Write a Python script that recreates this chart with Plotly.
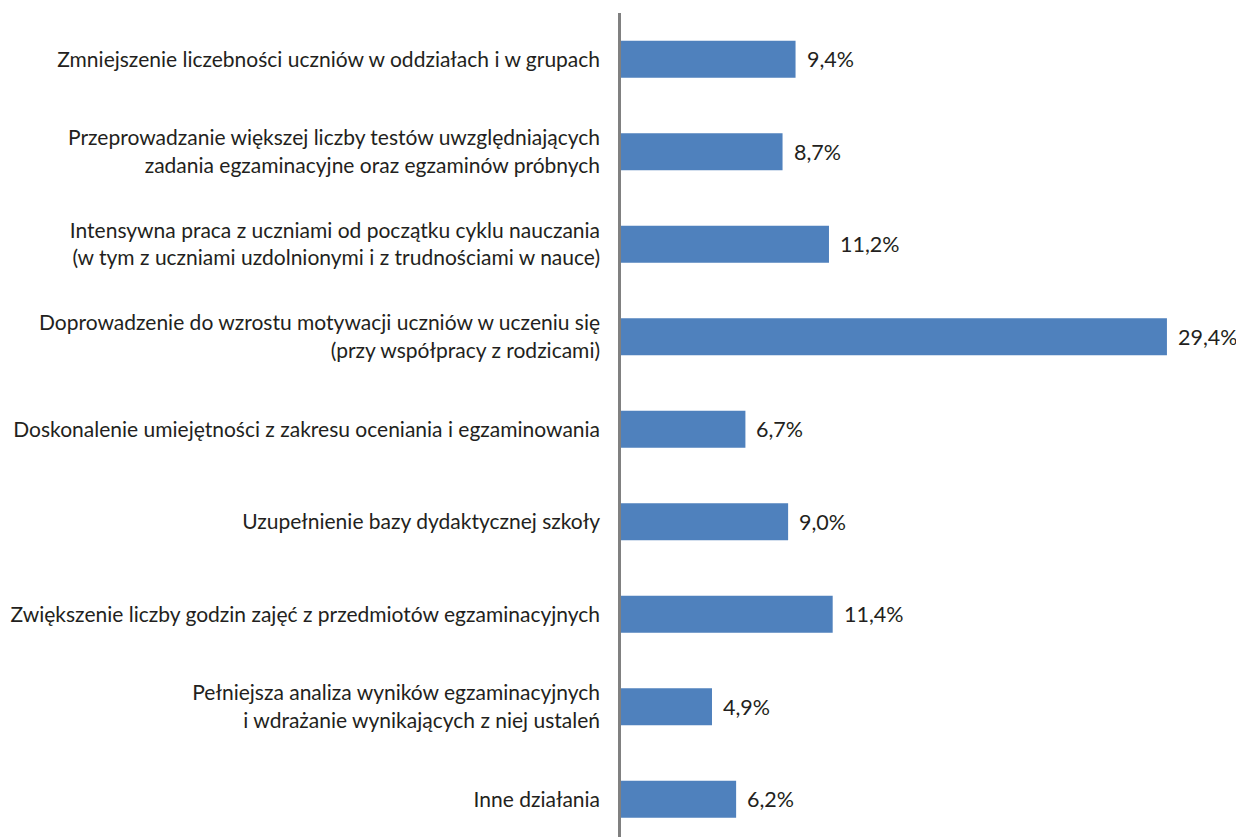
import plotly.graph_objects as go

categories = [
    "Zmniejszenie liczebności uczniów w oddziałach i w grupach",
    "Przeprowadzanie większej liczby testów uwzględniających<br>zadania egzaminacyjne oraz egzaminów próbnych",
    "Intensywna praca z uczniami od początku cyklu nauczania<br>(w tym z uczniami uzdolnionymi i z trudnościami w nauce)",
    "Doprowadzenie do wzrostu motywacji uczniów w uczeniu się<br>(przy współpracy z rodzicami)",
    "Doskonalenie umiejętności z zakresu oceniania i egzaminowania",
    "Uzupełnienie bazy dydaktycznej szkoły",
    "Zwiększenie liczby godzin zajęć z przedmiotów egzaminacyjnych",
    "Pełniejsza analiza wyników egzaminacyjnych<br>i wdrażanie wynikających z niej ustaleń",
    "Inne działania",
]
values = [9.4, 8.7, 11.2, 29.4, 6.7, 9.0, 11.4, 4.9, 6.2]
labels = [f"{v:.1f}".replace(".", ",") + "%" for v in values]

fig = go.Figure(go.Bar(
    x=values, y=categories, orientation="h",
    marker=dict(color="#4F81BD", line=dict(width=0)),
    width=0.4, hoverinfo="skip",
))

for c, v, t in zip(categories, values, labels):
    fig.add_annotation(x=v, y=c, text=t, showarrow=False, xanchor="left",
                       xshift=9, font=dict(family="Lato", size=21.5, color="#231F20"))

fig.update_layout(
    width=1236, height=829,
    margin=dict(l=613, r=0, t=5, b=0),
    paper_bgcolor="white", plot_bgcolor="white",
    showlegend=False,
    xaxis=dict(range=[0, 33.55], visible=False, fixedrange=True, automargin=False),
    yaxis=dict(
        type="category", range=[8.408, -0.5], automargin=False,
        showline=True, linecolor="#808080", linewidth=2.5,
        showgrid=False, ticks="", ticklabelstandoff=14,
        tickfont=dict(family="Lato", size=21, color="#231F20"),
    ),
    font=dict(family="Lato"),
)

fig.write_html("out.html")
